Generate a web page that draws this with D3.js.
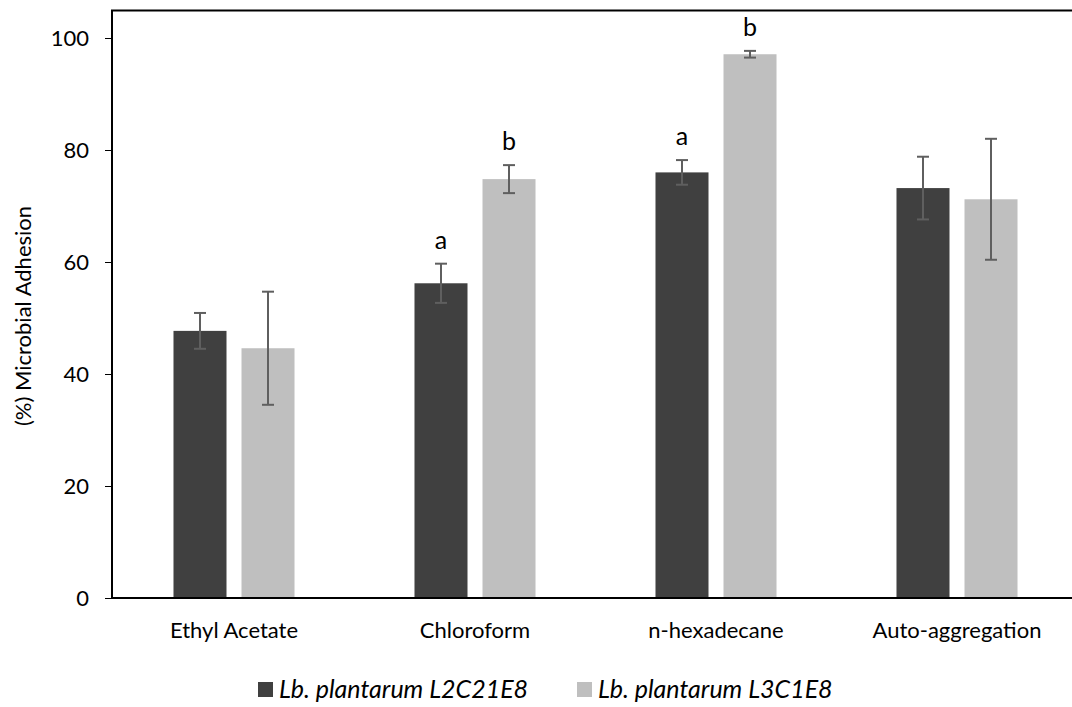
<!DOCTYPE html>
<html>
<head>
<meta charset="utf-8">
<script src="https://cdn.jsdelivr.net/npm/d3@7"></script>
<style>
  body { margin: 0; background: #fff; }
  svg { display: block; font-family: Lato, "Open Sans", sans-serif; }
</style>
</head>
<body>
<svg id="chart" width="1072" height="707"></svg>
<script>
const categories = ["Ethyl Acetate", "Chloroform", "n-hexadecane", "Auto-aggregation"];
const seriesNames = ["Lb. plantarum L2C21E8", "Lb. plantarum L3C1E8"];
const seriesA = [47.7, 56.2, 76.0, 73.2];
const seriesB = [44.6, 74.8, 97.1, 71.2];
const errA = [3.2, 3.5, 2.2, 5.6];
const errB = [10.1, 2.5, 0.6, 10.8];
const lettersA = ["", "a", "a", ""];
const lettersB = ["", "b", "b", ""];
const yTicks = [0, 20, 40, 60, 80, 100];

const colors = ["#404040", "#bfbfbf"];
const FONT = "Lato, 'Open Sans', sans-serif";
const svg = d3.select("#chart");
const left = 112;

const x0 = d3.scaleBand().domain(categories).range([113.5, 113.5 + 4 * 241]).paddingInner(0).paddingOuter(0);
const x1 = d3.scaleBand().domain([0, 1]).range([0, x0.bandwidth()]).paddingInner(0.2206).paddingOuter(0.882);
const y = d3.scaleLinear().domain([0, 105]).range([598, 10]);

const series = [
  { vals: seriesA, errs: errA, letters: lettersA },
  { vals: seriesB, errs: errB, letters: lettersB }
];

const g = svg.append("g");

series.forEach((s, si) => {
  g.selectAll(".bar" + si).data(categories).enter().append("rect")
    .attr("x", c => x0(c) + x1(si))
    .attr("y", (c, i) => y(s.vals[i]))
    .attr("width", x1.bandwidth())
    .attr("height", (c, i) => y(0) - y(s.vals[i]))
    .attr("fill", colors[si]);
});

series.forEach((s, si) => {
  categories.forEach((c, i) => {
    const cx = x0(c) + x1(si) + x1.bandwidth() / 2;
    const top = y(s.vals[i] + s.errs[i]);
    const bot = y(s.vals[i] - s.errs[i]);
    const eg = g.append("g").attr("stroke", "#5f5f5f").attr("stroke-width", 2);
    eg.append("line").attr("x1", cx).attr("x2", cx).attr("y1", top).attr("y2", bot);
    eg.append("line").attr("x1", cx - 6).attr("x2", cx + 6).attr("y1", top).attr("y2", top);
    eg.append("line").attr("x1", cx - 6).attr("x2", cx + 6).attr("y1", bot).attr("y2", bot);
    if (s.letters[i]) {
      g.append("text")
        .attr("x", cx)
        .attr("y", top - 15)
        .attr("text-anchor", "middle")
        .attr("font-size", 25)
        .attr("fill", "#000")
        .text(s.letters[i]);
    }
  });
});

// y axis
const yAxis = d3.axisLeft(y).tickValues(yTicks).tickSize(7).tickPadding(16).tickFormat(d3.format("d"));
const ya = svg.append("g").attr("transform", `translate(${left},0)`).call(yAxis);
ya.select(".domain").remove();
ya.selectAll(".tick line").attr("stroke", "#000").attr("stroke-width", 1);
ya.selectAll(".tick text").attr("font-size", 22).attr("fill", "#000").attr("font-family", FONT);
svg.append("line").attr("x1", left).attr("x2", left).attr("y1", 10).attr("y2", 599)
  .attr("stroke", "#000").attr("stroke-width", 2);

// top border
svg.append("line").attr("x1", left - 1).attr("x2", 1072).attr("y1", 10.5).attr("y2", 10.5)
  .attr("stroke", "#000").attr("stroke-width", 2);

// x axis
const xAxis = d3.axisBottom(x0).tickSize(0).tickPadding(24);
const xa = svg.append("g").attr("transform", `translate(0,${y(0)})`).call(xAxis);
xa.select(".domain").remove();
xa.selectAll(".tick text").attr("font-size", 22).attr("fill", "#000").attr("font-family", FONT);
svg.append("line").attr("x1", left - 1).attr("x2", 1072).attr("y1", y(0)).attr("y2", y(0))
  .attr("stroke", "#000").attr("stroke-width", 2);

// y title
svg.append("text")
  .attr("transform", `translate(31,316) rotate(-90)`)
  .attr("text-anchor", "middle")
  .attr("font-size", 22)
  .attr("fill", "#000")
  .text("(%) Microbial Adhesion");

// legend
const legendX = [258, 577];
seriesNames.forEach((name, i) => {
  svg.append("rect").attr("x", legendX[i]).attr("y", 682).attr("width", 15).attr("height", 15).attr("fill", colors[i]);
  svg.append("text").attr("x", legendX[i] + 21).attr("y", 698)
    .attr("font-size", 25).attr("font-style", "italic").attr("fill", "#000")
    .text(name);
});
</script>
</body>
</html>
